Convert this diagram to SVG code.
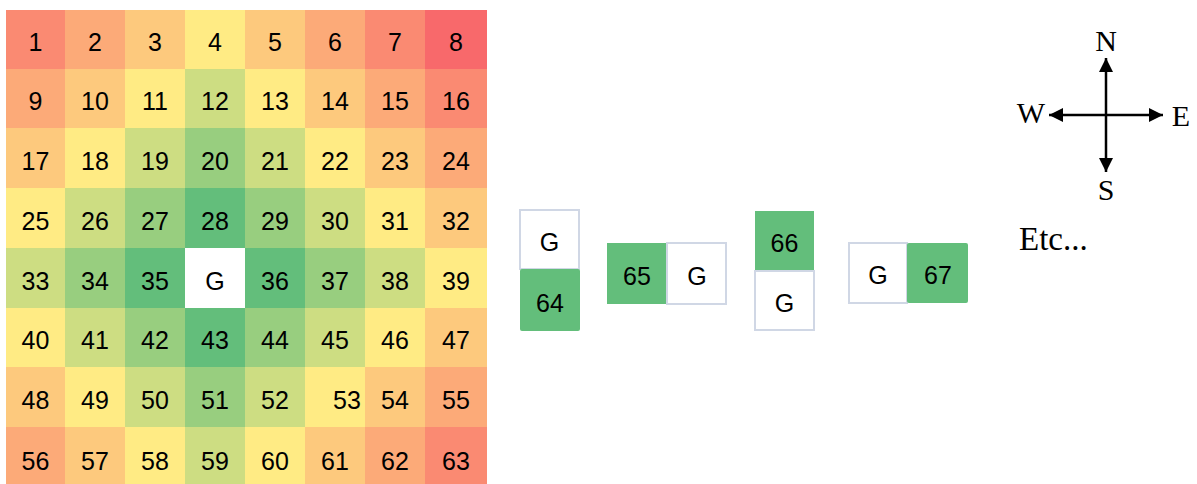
<svg xmlns="http://www.w3.org/2000/svg" width="1197" height="484" viewBox="0 0 1197 484">
<style>
.t{font-family:"Liberation Sans",Arial,sans-serif;font-size:25px;fill:#000;text-anchor:middle}
.s{font-family:"Liberation Serif","Times New Roman",serif;font-size:30px;fill:#000;text-anchor:middle}
.r{fill:#F8696B}.sa{fill:#FA8A72}.o{fill:#FCAA78}.lo{fill:#FDC97D}.y{fill:#FFEB84}.lg{fill:#CDDD82}.g{fill:#98CE7F}.dg{fill:#63BE7B}.w{fill:#FFFFFF}
.gb{fill:#FFFFFF;stroke:#D0D7E5;stroke-width:2}
.gn{fill:#63BE7B}
.ax{stroke:#000;stroke-width:2.5;fill:none}
</style>
<defs>
<marker id="ah" viewBox="0 0 10 10" refX="10" refY="5" markerWidth="14" markerHeight="14" markerUnits="userSpaceOnUse" orient="auto">
<path d="M0,0 L10,5 L0,10 Z" fill="#000"/>
</marker>
</defs>
<rect width="1197" height="484" fill="#FFFFFF"/>
<g id="grid">
<g id="c1"><rect class="sa" x="6" y="10" width="59" height="59"/><text class="t" x="35.5" y="51">1</text></g>
<g id="c2"><rect class="o" x="65" y="10" width="60" height="59"/><text class="t" x="95" y="51">2</text></g>
<g id="c3"><rect class="lo" x="125" y="10" width="60" height="59"/><text class="t" x="155" y="51">3</text></g>
<g id="c4"><rect class="y" x="185" y="10" width="60" height="59"/><text class="t" x="215" y="51">4</text></g>
<g id="c5"><rect class="lo" x="245" y="10" width="60" height="59"/><text class="t" x="275" y="51">5</text></g>
<g id="c6"><rect class="o" x="305" y="10" width="60" height="59"/><text class="t" x="335" y="51">6</text></g>
<g id="c7"><rect class="sa" x="365" y="10" width="60" height="59"/><text class="t" x="395" y="51">7</text></g>
<g id="c8"><rect class="r" x="425" y="10" width="62" height="59"/><text class="t" x="456" y="51">8</text></g>

<g id="c9"><rect class="o" x="6" y="69" width="59" height="59"/><text class="t" x="35.5" y="110">9</text></g>
<g id="c10"><rect class="lo" x="65" y="69" width="60" height="59"/><text class="t" x="95" y="110">10</text></g>
<g id="c11"><rect class="y" x="125" y="69" width="60" height="59"/><text class="t" x="155" y="110">11</text></g>
<g id="c12"><rect class="lg" x="185" y="69" width="60" height="59"/><text class="t" x="215" y="110">12</text></g>
<g id="c13"><rect class="y" x="245" y="69" width="60" height="59"/><text class="t" x="275" y="110">13</text></g>
<g id="c14"><rect class="lo" x="305" y="69" width="60" height="59"/><text class="t" x="335" y="110">14</text></g>
<g id="c15"><rect class="o" x="365" y="69" width="60" height="59"/><text class="t" x="395" y="110">15</text></g>
<g id="c16"><rect class="sa" x="425" y="69" width="62" height="59"/><text class="t" x="456" y="110">16</text></g>

<g id="c17"><rect class="lo" x="6" y="128" width="59" height="60"/><text class="t" x="35.5" y="170">17</text></g>
<g id="c18"><rect class="y" x="65" y="128" width="60" height="60"/><text class="t" x="95" y="170">18</text></g>
<g id="c19"><rect class="lg" x="125" y="128" width="60" height="60"/><text class="t" x="155" y="170">19</text></g>
<g id="c20"><rect class="g" x="185" y="128" width="60" height="60"/><text class="t" x="215" y="170">20</text></g>
<g id="c21"><rect class="lg" x="245" y="128" width="60" height="60"/><text class="t" x="275" y="170">21</text></g>
<g id="c22"><rect class="y" x="305" y="128" width="60" height="60"/><text class="t" x="335" y="170">22</text></g>
<g id="c23"><rect class="lo" x="365" y="128" width="60" height="60"/><text class="t" x="395" y="170">23</text></g>
<g id="c24"><rect class="o" x="425" y="128" width="62" height="60"/><text class="t" x="456" y="170">24</text></g>

<g id="c25"><rect class="y" x="6" y="188" width="59" height="60"/><text class="t" x="35.5" y="230">25</text></g>
<g id="c26"><rect class="lg" x="65" y="188" width="60" height="60"/><text class="t" x="95" y="230">26</text></g>
<g id="c27"><rect class="g" x="125" y="188" width="60" height="60"/><text class="t" x="155" y="230">27</text></g>
<g id="c28"><rect class="dg" x="185" y="188" width="60" height="60"/><text class="t" x="215" y="230">28</text></g>
<g id="c29"><rect class="g" x="245" y="188" width="60" height="60"/><text class="t" x="275" y="230">29</text></g>
<g id="c30"><rect class="lg" x="305" y="188" width="60" height="60"/><text class="t" x="335" y="230">30</text></g>
<g id="c31"><rect class="y" x="365" y="188" width="60" height="60"/><text class="t" x="395" y="230">31</text></g>
<g id="c32"><rect class="lo" x="425" y="188" width="62" height="60"/><text class="t" x="456" y="230">32</text></g>

<g id="c33"><rect class="lg" x="6" y="248" width="59" height="60"/><text class="t" x="35.5" y="290">33</text></g>
<g id="c34"><rect class="g" x="65" y="248" width="60" height="60"/><text class="t" x="95" y="290">34</text></g>
<g id="c35"><rect class="dg" x="125" y="248" width="60" height="60"/><text class="t" x="155" y="290">35</text></g>
<g id="cG"><rect class="w" x="187" y="250" width="58" height="57"/><text class="t" x="215" y="290">G</text></g>
<g id="c36"><rect class="dg" x="245" y="248" width="60" height="60"/><text class="t" x="275" y="290">36</text></g>
<g id="c37"><rect class="g" x="305" y="248" width="60" height="60"/><text class="t" x="335" y="290">37</text></g>
<g id="c38"><rect class="lg" x="365" y="248" width="60" height="60"/><text class="t" x="395" y="290">38</text></g>
<g id="c39"><rect class="y" x="425" y="248" width="62" height="60"/><text class="t" x="456" y="290">39</text></g>

<g id="c40"><rect class="y" x="6" y="308" width="59" height="59"/><text class="t" x="35.5" y="349">40</text></g>
<g id="c41"><rect class="lg" x="65" y="308" width="60" height="59"/><text class="t" x="95" y="349">41</text></g>
<g id="c42"><rect class="g" x="125" y="308" width="60" height="59"/><text class="t" x="155" y="349">42</text></g>
<g id="c43"><rect class="dg" x="185" y="308" width="60" height="59"/><text class="t" x="215" y="349">43</text></g>
<g id="c44"><rect class="g" x="245" y="308" width="60" height="59"/><text class="t" x="275" y="349">44</text></g>
<g id="c45"><rect class="lg" x="305" y="308" width="60" height="59"/><text class="t" x="335" y="349">45</text></g>
<g id="c46"><rect class="y" x="365" y="308" width="60" height="59"/><text class="t" x="395" y="349">46</text></g>
<g id="c47"><rect class="lo" x="425" y="308" width="62" height="59"/><text class="t" x="456" y="349">47</text></g>

<g id="c48"><rect class="lo" x="6" y="367" width="59" height="60"/><text class="t" x="35.5" y="409">48</text></g>
<g id="c49"><rect class="y" x="65" y="367" width="60" height="60"/><text class="t" x="95" y="409">49</text></g>
<g id="c50"><rect class="lg" x="125" y="367" width="60" height="60"/><text class="t" x="155" y="409">50</text></g>
<g id="c51"><rect class="g" x="185" y="367" width="60" height="60"/><text class="t" x="215" y="409">51</text></g>
<g id="c52"><rect class="lg" x="245" y="367" width="60" height="60"/><text class="t" x="275" y="409">52</text></g>
<g id="c53"><rect class="y" x="305" y="367" width="60" height="60"/><text class="t" x="347" y="409">53</text></g>
<g id="c54"><rect class="lo" x="365" y="367" width="60" height="60"/><text class="t" x="395" y="409">54</text></g>
<g id="c55"><rect class="o" x="425" y="367" width="62" height="60"/><text class="t" x="456" y="409">55</text></g>

<g id="c56"><rect class="o" x="6" y="427" width="59" height="60"/><text class="t" x="35.5" y="470">56</text></g>
<g id="c57"><rect class="lo" x="65" y="427" width="60" height="60"/><text class="t" x="95" y="470">57</text></g>
<g id="c58"><rect class="y" x="125" y="427" width="60" height="60"/><text class="t" x="155" y="470">58</text></g>
<g id="c59"><rect class="lg" x="185" y="427" width="60" height="60"/><text class="t" x="215" y="470">59</text></g>
<g id="c60"><rect class="y" x="245" y="427" width="60" height="60"/><text class="t" x="275" y="470">60</text></g>
<g id="c61"><rect class="lo" x="305" y="427" width="60" height="60"/><text class="t" x="335" y="470">61</text></g>
<g id="c62"><rect class="o" x="365" y="427" width="60" height="60"/><text class="t" x="395" y="470">62</text></g>
<g id="c63"><rect class="sa" x="425" y="427" width="62" height="60"/><text class="t" x="456" y="470">63</text></g>
</g>

<g id="pair-south">
<rect class="gb" x="520" y="210" width="59" height="59"/><text class="t" x="549.5" y="251">G</text>
<rect class="gn" x="520" y="269" width="60" height="62" rx="2"/><text class="t" x="550" y="312">64</text>
</g>
<g id="pair-west">
<rect class="gn" x="607" y="243" width="60" height="61"/><text class="t" x="637" y="285">65</text>
<rect class="gb" x="667" y="243" width="59" height="61"/><text class="t" x="697" y="285">G</text>
</g>
<g id="pair-north">
<rect class="gn" x="755" y="211" width="59" height="60"/><text class="t" x="784.5" y="252">66</text>
<rect class="gb" x="755" y="271" width="59" height="59"/><text class="t" x="784.5" y="312">G</text>
</g>
<g id="pair-east">
<rect class="gb" x="849" y="243" width="58" height="60"/><text class="t" x="878" y="284">G</text>
<rect class="gn" x="907" y="243" width="61" height="60" rx="2"/><text class="t" x="938" y="284">67</text>
</g>

<g id="connectors">
<line class="ax" x1="1106" y1="115" x2="1106" y2="58" marker-end="url(#ah)"/>
<line class="ax" x1="1106" y1="115" x2="1106" y2="172" marker-end="url(#ah)"/>
<line class="ax" x1="1106" y1="115" x2="1049" y2="115" marker-end="url(#ah)"/>
<line class="ax" x1="1106" y1="115" x2="1163" y2="115" marker-end="url(#ah)"/>
</g>
<g id="compass-labels">
<text class="s" x="1106" y="51">N</text>
<text class="s" x="1106" y="200">S</text>
<text class="s" x="1031" y="123">W</text>
<text class="s" x="1181" y="126">E</text>
</g>
<g id="etc"><text class="s" x="1019" y="250" style="text-anchor:start;font-size:33px">Etc...</text></g>
</svg>
